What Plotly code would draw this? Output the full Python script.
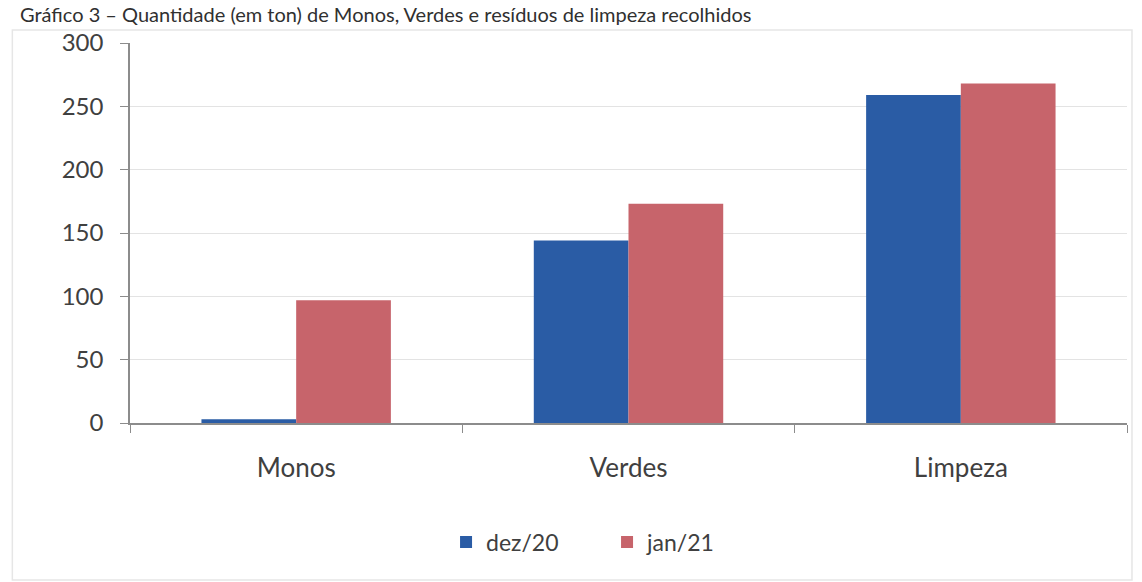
import plotly.graph_objects as go

categories = ["Monos", "Verdes", "Limpeza"]
dez20 = [3, 144, 259]
jan21 = [97, 173, 268]
series_names = ["dez/20", "jan/21"]
y_ticks = [0, 50, 100, 150, 200, 250, 300]
title_text = "Gráfico 3 – Quantidade (em ton) de Monos, Verdes e resíduos de limpeza recolhidos"

FONT = "Lato, 'Open Sans', sans-serif"
BLUE = "#2a5ca5"
RED = "#c7646b"

fig = go.Figure()
fig.add_trace(go.Bar(x=categories, y=dez20, name=series_names[0], marker_color=BLUE, marker_line_width=0))
fig.add_trace(go.Bar(x=categories, y=jan21, name=series_names[1], marker_color=RED, marker_line_width=0))

fig.update_layout(
    width=1142, height=582,
    margin=dict(l=130, r=15, t=43, b=159),
    paper_bgcolor="white", plot_bgcolor="white",
    barmode="group", bargap=0.43, bargroupgap=0,
    font=dict(family=FONT, color="#404040", size=19),
    showlegend=True,
    legend=dict(orientation="h", x=0.317, xanchor="left", y=-0.313, yanchor="middle",
                font=dict(size=23, color="#404040"), itemwidth=30, traceorder="normal",
                entrywidth=116, entrywidthmode="pixels"),
    xaxis=dict(showline=True, linecolor="#8c8c8c", linewidth=1.5, ticks="outside",
               tickson="boundaries", ticklen=8, tickcolor="#8c8c8c",
               tickfont=dict(size=26), ticklabelstandoff=21, showgrid=False),
    yaxis=dict(range=[0, 300], tickvals=y_ticks, showline=True, linecolor="#8c8c8c", linewidth=1.5,
               ticks="outside", ticklen=8, tickcolor="#8c8c8c", tickfont=dict(size=24),
               ticklabelstandoff=12, showgrid=True, gridcolor="#e3e3e3", gridwidth=1, zeroline=False),
    shapes=[dict(type="rect", xref="paper", yref="paper", x0=-0.118, x1=1.005, y0=-0.413, y1=1.034,
                 line=dict(color="#e6e6e6", width=1.5), fillcolor="rgba(0,0,0,0)", layer="below")],
    annotations=[dict(text=title_text, xref="paper", yref="paper", x=-0.112, y=1.113,
                      xanchor="left", yanchor="top", showarrow=False,
                      font=dict(size=20, color="#303030", family=FONT))],
)

fig.write_html("out.html", config={"displayModeBar": False},
               post_script="document.body.style.margin='0';")
